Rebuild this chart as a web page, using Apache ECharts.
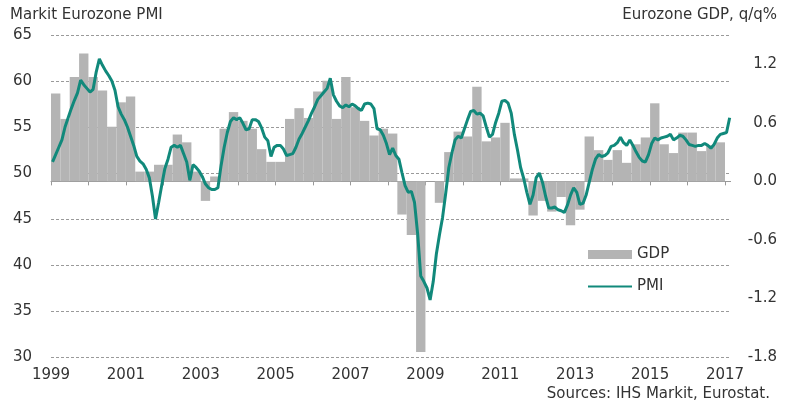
<!DOCTYPE html>
<html>
<head>
<meta charset="utf-8">
<script src="https://cdn.jsdelivr.net/npm/echarts@6/dist/echarts.min.js"></script>
<style>
html,body{margin:0;padding:0;background:#ffffff;}
#c{width:790px;height:402px;}
</style>
</head>
<body>
<div id="c"></div>
<script>
// ---- data ----
const gdpStartYear = 1999; // quarterly, 1999Q1 .. 2016Q4
const gdpValues = [
  0.90, 0.64, 1.07, 1.31,
  1.07, 0.93, 0.56, 0.81,
  0.87, 0.10, 0.10, 0.17,
  0.17, 0.48, 0.40, 0.10,
  -0.20, 0.05, 0.54, 0.71,
  0.62, 0.54, 0.33, 0.20,
  0.20, 0.64, 0.75, 0.65,
  0.92, 1.03, 0.64, 1.07,
  0.76, 0.62, 0.47, 0.54,
  0.49, -0.34, -0.55, -1.75,
  null, -0.22, 0.30, 0.51,
  0.46, 0.97, 0.41, 0.45,
  0.60, 0.03, 0.03, -0.35,
  -0.20, -0.31, -0.16, -0.45,
  -0.29, 0.46, 0.32, 0.22,
  0.32, 0.19, 0.38, 0.45,
  0.80, 0.38, 0.29, 0.50,
  0.50, 0.31, 0.37, 0.40
];
const pmiStartYear = 1999; // monthly, Jan 1999 .. Feb 2017
const pmiValues = [
  51.2, 52.0, 52.8, 53.6, 55.0, 56.0, 57.0, 57.9, 58.7, 60.1, 59.6, 59.2,
  58.8, 59.1, 61.0, 62.4, 61.7, 61.1, 60.6, 60.0, 59.0, 57.2, 56.4, 55.8,
  55.0, 54.0, 53.0, 51.8, 51.3, 51.0, 50.4, 49.5, 47.5, 45.0, 46.8, 48.7,
  50.5, 51.5, 52.8, 53.0, 52.8, 53.0, 52.1, 51.2, 49.2, 50.9, 50.6, 50.2,
  49.6, 48.8, 48.4, 48.2, 48.2, 48.4, 50.8, 52.8, 54.4, 55.6, 56.0, 55.8,
  56.0, 55.4, 54.7, 54.8, 55.8, 55.8, 55.6, 54.9, 53.9, 53.5, 51.8, 52.8,
  53.0, 53.0, 52.6, 51.9, 52.0, 52.1, 52.8, 53.7, 54.3, 55.0, 55.7, 56.5,
  57.2, 58.0, 58.4, 58.8, 59.2, 60.3, 58.5, 57.8, 57.3, 57.1, 57.4, 57.2,
  57.5, 57.3, 57.0, 56.8, 57.5, 57.6, 57.5, 57.0, 54.8, 54.7, 54.1, 53.2,
  52.0, 52.7, 51.9, 51.5, 50.0, 48.6, 47.9, 48.0, 46.8, 43.4, 38.8, 38.2,
  37.5, 36.2, 38.2, 41.2, 43.3, 45.2, 47.8, 50.6, 52.2, 53.6, 54.0, 53.8,
  54.8, 55.8, 56.7, 56.8, 56.4, 56.5, 56.2, 55.0, 53.9, 54.2, 55.5, 56.5,
  57.8, 57.9, 57.6, 56.5, 54.2, 52.5, 50.6, 49.4, 47.9, 46.6, 47.6, 49.5,
  50.0, 49.0, 47.5, 46.2, 46.2, 46.3, 46.0, 45.9, 45.7, 46.5, 47.6, 48.4,
  47.9, 46.6, 46.7, 47.6, 49.0, 50.4, 51.5, 52.0, 51.8, 51.9, 52.2, 52.9,
  53.0, 53.3, 53.9, 53.3, 53.0, 53.6, 53.0, 52.3, 51.7, 51.3, 51.2, 52.0,
  53.2, 53.8, 53.6, 53.8, 53.9, 54.0, 54.2, 53.6, 53.8, 54.1, 54.0, 53.6,
  53.1, 53.0, 52.9, 53.0, 53.0, 53.2, 53.0, 52.7, 53.1, 53.8, 54.2, 54.3,
  54.4, 56.0
];
const xTickYears = [1999,2000,2001,2002,2003,2004,2005,2006,2007,2008,2009,2010,2011,2012,2013,2014,2015,2016,2017];
const xLabelYears = [1999,2001,2003,2005,2007,2009,2011,2013,2015,2017];

// ---- chart ----
const FONT = 'DejaVu Sans';
const TXT = '#333333';
const gdpData = gdpValues.map((v, i) => [gdpStartYear + (i + 0.5) / 4, v]);
const pmiData = pmiValues.map((v, i) => [pmiStartYear + (i + 0.5) / 12, v]);

const chart = echarts.init(document.getElementById('c'));
const titleStyle = {fontSize: 15, fontWeight: 'normal', color: TXT, fontFamily: FONT};
chart.setOption({
  animation: false,
  textStyle: {fontFamily: FONT},
  title: [
    {text: 'Markit Eurozone PMI', left: 10, top: 8, padding: 0, textStyle: titleStyle},
    {text: 'Eurozone GDP, q/q%', right: 13, top: 8, padding: 0, textStyle: titleStyle},
    {text: 'Sources: IHS Markit, Eurostat.', right: 20, top: 387, padding: 0, textStyle: titleStyle}
  ],
  grid: {left: 51, right: 59.4, top: 35, bottom: 45, containLabel: false, outerBoundsMode: 'none'},
  legend: {
    orient: 'vertical', left: 587, top: 247, padding: 0,
    itemWidth: 44, itemHeight: 9, itemGap: 17,
    textStyle: {fontSize: 15, color: TXT, fontFamily: FONT},
    data: [
      {name: 'GDP', icon: 'rect'},
      {name: 'PMI', itemStyle: {opacity: 0}}
    ]
  },
  xAxis: {
    type: 'value', min: 1999, max: 2017.15,
    axisLine: {lineStyle: {color: '#999999', width: 1}},
    axisTick: {customValues: xTickYears, length: 4, lineStyle: {color: '#999999'}},
    axisLabel: {customValues: xLabelYears, fontSize: 15, color: TXT, margin: 11, formatter: v => String(Math.round(v))},
    splitLine: {show: false}
  },
  yAxis: [
    {
      type: 'value', min: 30, max: 65, interval: 5, position: 'left',
      axisLine: {show: false}, axisTick: {show: false},
      axisLabel: {fontSize: 15, color: TXT, margin: 19},
      splitLine: {show: true, lineStyle: {color: '#9a9a9a', width: 1, type: [3, 2]}}
    },
    {
      type: 'value', min: -1.8, max: 1.5, interval: 0.6, position: 'right',
      axisLine: {show: false}, axisTick: {show: false}, splitLine: {show: false},
      axisLabel: {
        fontSize: 15, color: TXT, align: 'right', margin: 46.5, showMaxLabel: false,
        formatter: v => Math.abs(v - 1.5) < 1e-9 ? '' : (Math.abs(v) < 1e-9 ? '0.0' : v.toFixed(1))
      }
    }
  ],
  series: [
    {name: 'GDP', type: 'bar', yAxisIndex: 1, data: gdpData, barWidth: '100%', itemStyle: {color: '#b4b4b4'}, z: 2},
    {name: 'PMI', type: 'line', yAxisIndex: 0, data: pmiData, symbol: 'none', clip: false,
     lineStyle: {color: '#11897b', width: 3}, itemStyle: {color: '#11897b'}, z: 3}
  ]
});
</script>
</body>
</html>
